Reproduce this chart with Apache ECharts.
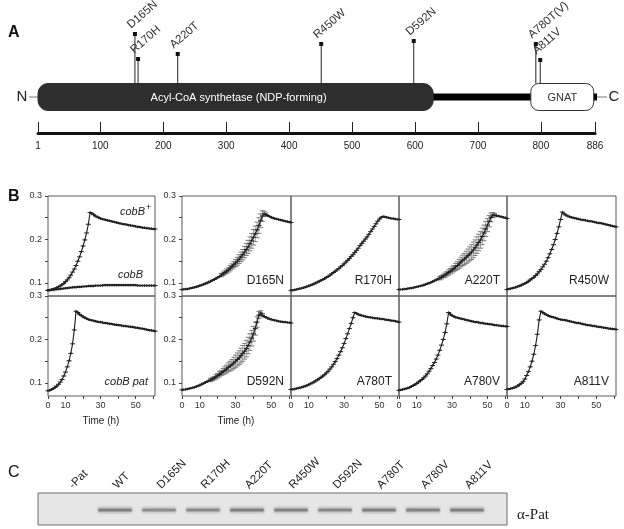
<!DOCTYPE html>
<html><head><meta charset="utf-8">
<script src="https://cdn.jsdelivr.net/npm/echarts@6/dist/echarts.min.js"></script>
<style>html,body{margin:0;padding:0;background:#fff}#c{width:624px;height:529px}</style>
</head><body><div id="c"></div><script>
// ---------------- DATA ----------------
// Panel A: protein schematic (residue numbers)
const proteinLength = 886;
const residueTicks = [1, 100, 200, 300, 400, 500, 600, 700, 800, 886];
const domainNames = ['Acyl-CoA synthetase (NDP-forming)', 'GNAT'];
const domainStart = [1, 784];
const domainEnd = [629, 884];
const linkerRange = [629, 784];
const mutLabels = ['D165N', 'R170H', 'A220T', 'R450W', 'D592N', 'A780T(V)', 'A811V'];
const mutPos = [155, 160, 223, 451, 598, 792, 799];

// Panel B: growth curves (OD vs time, h)
const timeH = [0,1,2,3,4,5,6,7,8,9,10,11,12,13,14,15,16,17,18,19,20,21,22,23,24,25,26,27,28,29,30,31,32,33,34,35,36,37,38,39,40,41,42,43,44,45,46,47,48,49,50,51,52,53,54,55,56,57,58,59,60,61];
const xTickLabels = [0, 10, 30, 50];
const xTicks = [0, 10, 20, 30, 40, 50, 60];
const yTickLabels = [0.1, 0.2, 0.3];
const yTicks = [0.1, 0.15, 0.2, 0.25, 0.3];

const cobBplus = [0.083,0.084,0.085,0.086,0.087,0.089,0.091,0.093,0.096,0.099,
 0.103,0.107,0.112,0.118,0.125,0.132,0.140,0.150,0.160,0.172,
 0.185,0.199,0.215,0.235,0.262,0.260,0.257,0.254,0.252,0.250,
 0.248,0.247,0.246,0.245,0.244,0.243,0.242,0.241,0.240,0.239,
 0.238,0.237,0.236,0.235,0.235,0.234,0.233,0.232,0.232,0.231,
 0.230,0.229,0.229,0.228,0.227,0.227,0.226,0.226,0.225,0.225,0.224,0.224];
const cobB = [0.083,0.083,0.084,0.084,0.085,0.085,0.086,0.086,0.087,0.087,
 0.088,0.088,0.089,0.089,0.090,0.090,0.090,0.091,0.091,0.091,
 0.092,0.092,0.092,0.093,0.093,0.093,0.093,0.094,0.094,0.094,
 0.094,0.094,0.095,0.095,0.095,0.095,0.095,0.095,0.095,0.095,
 0.095,0.095,0.095,0.095,0.095,0.095,0.095,0.095,0.095,0.095,
 0.095,0.094,0.094,0.094,0.094,0.094,0.094,0.094,0.094,0.094,0.094,0.094];
const cobBpat = [0.082,0.083,0.085,0.087,0.090,0.093,0.097,0.102,0.108,0.116,
 0.125,0.137,0.151,0.168,0.190,0.222,0.265,0.262,0.258,0.255,
 0.252,0.250,0.248,0.246,0.245,0.244,0.243,0.242,0.241,0.240,
 0.240,0.239,0.238,0.238,0.237,0.236,0.236,0.235,0.234,0.234,
 0.233,0.233,0.232,0.231,0.231,0.230,0.230,0.229,0.229,0.228,
 0.227,0.227,0.226,0.225,0.225,0.224,0.223,0.222,0.221,0.221,0.220,0.219];
const D165N = [0.085,0.085,0.086,0.086,0.087,0.088,0.089,0.090,0.091,0.092,
 0.094,0.095,0.097,0.098,0.100,0.102,0.104,0.106,0.108,0.110,
 0.113,0.115,0.118,0.121,0.124,0.127,0.130,0.134,0.138,0.142,
 0.146,0.150,0.155,0.160,0.165,0.171,0.177,0.183,0.190,0.197,
 0.205,0.213,0.222,0.232,0.243,0.254,0.259,0.257,0.255,0.253,
 0.251,0.249,0.248,0.247,0.246,0.245,0.244,0.243,0.242,0.241,0.240,0.239];
const D165Nerr = [0.002,0.002,0.002,0.002,0.002,0.002,0.002,0.002,0.002,0.002,
 0.002,0.002,0.002,0.002,0.002,0.003,0.003,0.003,0.003,0.003,
 0.003,0.003,0.004,0.004,0.004,0.005,0.005,0.006,0.006,0.007,
 0.008,0.009,0.010,0.011,0.012,0.013,0.014,0.015,0.016,0.017,
 0.018,0.018,0.018,0.018,0.016,0.012,0.006,0.004,0.003,0.003,
 0.003,0.003,0.003,0.003,0.003,0.003,0.003,0.003,0.003,0.003,0.003,0.003];
const R170H = [0.083,0.083,0.084,0.085,0.086,0.087,0.088,0.089,0.090,0.092,
 0.093,0.095,0.096,0.098,0.100,0.102,0.104,0.106,0.108,0.110,
 0.113,0.115,0.118,0.121,0.124,0.127,0.130,0.133,0.137,0.140,
 0.144,0.148,0.152,0.156,0.161,0.165,0.170,0.175,0.180,0.186,
 0.191,0.196,0.201,0.206,0.212,0.218,0.224,0.230,0.236,0.242,
 0.247,0.251,0.253,0.252,0.251,0.250,0.249,0.248,0.248,0.247,0.246,0.246];
const A220T = [0.085,0.085,0.085,0.086,0.086,0.087,0.088,0.088,0.089,0.090,
 0.091,0.092,0.093,0.094,0.095,0.097,0.098,0.100,0.101,0.103,
 0.105,0.107,0.109,0.111,0.113,0.116,0.118,0.121,0.124,0.127,
 0.130,0.133,0.137,0.140,0.144,0.148,0.152,0.155,0.159,0.163,
 0.167,0.171,0.176,0.181,0.187,0.193,0.199,0.207,0.215,0.224,
 0.233,0.242,0.251,0.256,0.256,0.255,0.254,0.253,0.252,0.251,0.250,0.248];
const A220Terr = [0.002,0.002,0.002,0.002,0.002,0.002,0.002,0.002,0.002,0.002,
 0.002,0.002,0.002,0.002,0.002,0.003,0.003,0.003,0.003,0.003,
 0.003,0.003,0.003,0.004,0.004,0.004,0.005,0.005,0.006,0.006,
 0.007,0.007,0.008,0.009,0.010,0.011,0.012,0.013,0.014,0.015,
 0.016,0.017,0.018,0.018,0.019,0.019,0.019,0.019,0.018,0.017,
 0.015,0.013,0.010,0.006,0.004,0.003,0.003,0.003,0.003,0.003,0.003,0.003];
const R450W = [0.085,0.086,0.087,0.088,0.089,0.090,0.092,0.093,0.095,0.097,
 0.099,0.101,0.104,0.107,0.110,0.113,0.117,0.121,0.126,0.131,
 0.137,0.143,0.150,0.158,0.167,0.177,0.188,0.200,0.214,0.229,
 0.246,0.263,0.259,0.256,0.254,0.252,0.251,0.250,0.249,0.248,
 0.247,0.246,0.245,0.245,0.244,0.243,0.242,0.242,0.241,0.240,
 0.239,0.238,0.238,0.237,0.236,0.235,0.234,0.233,0.232,0.231,0.230,0.229];
const D592N = [0.084,0.085,0.085,0.086,0.087,0.088,0.089,0.090,0.092,0.093,
 0.095,0.097,0.099,0.101,0.103,0.105,0.107,0.109,0.111,0.114,
 0.117,0.120,0.123,0.126,0.129,0.132,0.136,0.139,0.142,0.146,
 0.150,0.154,0.158,0.163,0.168,0.173,0.179,0.186,0.194,0.203,
 0.213,0.225,0.240,0.256,0.261,0.256,0.253,0.251,0.249,0.247,
 0.246,0.245,0.244,0.243,0.242,0.241,0.241,0.240,0.240,0.239,0.239,0.238];
const D592Nerr = [0.002,0.002,0.002,0.002,0.002,0.002,0.002,0.002,0.002,0.002,
 0.002,0.002,0.003,0.003,0.003,0.003,0.004,0.004,0.004,0.005,
 0.005,0.006,0.006,0.007,0.008,0.009,0.010,0.011,0.012,0.013,
 0.014,0.015,0.016,0.017,0.018,0.018,0.019,0.019,0.019,0.018,
 0.017,0.015,0.012,0.008,0.005,0.004,0.003,0.003,0.003,0.003,
 0.003,0.003,0.003,0.003,0.003,0.003,0.003,0.003,0.003,0.003,0.003,0.003];
const A780T = [0.085,0.085,0.086,0.087,0.088,0.089,0.090,0.091,0.093,0.094,
 0.096,0.098,0.100,0.102,0.105,0.107,0.110,0.113,0.116,0.119,
 0.123,0.127,0.132,0.137,0.143,0.149,0.156,0.164,0.172,0.181,
 0.191,0.202,0.213,0.225,0.237,0.250,0.262,0.260,0.258,0.256,
 0.255,0.254,0.253,0.252,0.251,0.251,0.250,0.249,0.249,0.248,
 0.248,0.247,0.247,0.246,0.245,0.245,0.244,0.243,0.243,0.242,0.241,0.240];
const A780V = [0.083,0.084,0.085,0.086,0.087,0.088,0.090,0.092,0.094,0.096,
 0.099,0.102,0.105,0.108,0.112,0.116,0.121,0.127,0.133,0.140,
 0.147,0.155,0.164,0.175,0.187,0.200,0.216,0.236,0.262,0.258,
 0.255,0.253,0.251,0.250,0.249,0.248,0.247,0.246,0.245,0.244,
 0.243,0.242,0.241,0.240,0.240,0.239,0.238,0.238,0.237,0.236,
 0.236,0.235,0.235,0.234,0.233,0.233,0.232,0.232,0.231,0.231,0.230,0.230];
const A811V = [0.085,0.086,0.087,0.088,0.089,0.091,0.093,0.096,0.099,0.103,
 0.109,0.117,0.126,0.137,0.150,0.166,0.186,0.212,0.245,0.265,
 0.262,0.259,0.257,0.255,0.253,0.252,0.251,0.250,0.248,0.247,
 0.246,0.245,0.245,0.244,0.243,0.242,0.241,0.240,0.239,0.238,
 0.238,0.237,0.236,0.235,0.234,0.233,0.233,0.232,0.231,0.231,
 0.230,0.229,0.229,0.228,0.227,0.227,0.226,0.225,0.225,0.224,0.224,0.223];

// Panel C: western blot lanes and relative band intensity
const laneLabels = ['-Pat', 'WT', 'D165N', 'R170H', 'A220T', 'R450W', 'D592N', 'A780T', 'A780V', 'A811V'];
const bandIntensity = [0, 0.75, 0.6, 0.62, 0.75, 0.7, 0.65, 0.75, 0.7, 0.75];

// ---------------- LAYOUT / STYLE ----------------
const FONT = '"Liberation Sans", Arial, Helvetica, sans-serif';
const pinRise = [99, 74, 79, 89, 92, 89, 73]; // px above scale line (label staggering)
const colLeft = {L: 48, 0: 182, 1: 291, 2: 399, 3: 507};
const colWidth = {L: 107, 0: 109, 1: 108, 2: 108, 3: 109};
const rowTop = [196, 296];
const rowH = 100;

const panels = [
  {label: null, series: [cobBplus, cobB], err: [null, null], col: 'L', row: 0},
  {label: 'D165N', series: [D165N], err: [D165Nerr], col: 0, row: 0},
  {label: 'R170H', series: [R170H], err: [null], col: 1, row: 0},
  {label: 'A220T', series: [A220T], err: [A220Terr], col: 2, row: 0},
  {label: 'R450W', series: [R450W], err: [null], col: 3, row: 0},
  {label: null, series: [cobBpat], err: [null], col: 'L', row: 1},
  {label: 'D592N', series: [D592N], err: [D592Nerr], col: 0, row: 1},
  {label: 'A780T', series: [A780T], err: [null], col: 1, row: 1},
  {label: 'A780V', series: [A780V], err: [null], col: 2, row: 1},
  {label: 'A811V', series: [A811V], err: [null], col: 3, row: 1}
];

function T(x, y, text, o) {
  o = o || {};
  const align = o.align || 'left', va = o.va || 'middle';
  return {type: 'text', x: x, y: y, rotation: o.rot || 0, silent: true, z: 100,
    style: {text: text, fill: o.color || '#222', fontSize: o.size || 11, fontFamily: o.family || FONT,
      fontWeight: o.weight || 'normal', fontStyle: o.style || 'normal',
      align: align, textAlign: align, verticalAlign: va, textVerticalAlign: va}};
}

const grids = [], xAxes = [], yAxes = [], series = [], graphics = [];

// ---------- Panel A ----------
grids.push({left: 38, top: 20, width: 557, height: 113});
xAxes.push({gridIndex: 0, type: 'value', min: 1, max: proteinLength, position: 'bottom',
  axisLine: {show: true, onZero: false, lineStyle: {color: '#111', width: 3}},
  axisTick: {show: true, inside: true, length: 11, customValues: residueTicks, lineStyle: {color: '#222', width: 1}},
  axisLabel: {show: true, customValues: residueTicks, fontSize: 10, color: '#222', margin: 8, fontFamily: FONT},
  splitLine: {show: false}});
yAxes.push({gridIndex: 0, type: 'value', min: 0, max: 1, show: false});

const BAR_DY = 36, BAR_H = 27, LINK_H = 7;
series.push({type: 'custom', xAxisIndex: 0, yAxisIndex: 0, silent: true, animation: false,
  data: [[linkerRange[0], linkerRange[1]]],
  renderItem: function (p, api) {
    const a = api.coord([api.value(0), 0]), b = api.coord([api.value(1), 0]);
    const cy = a[1] - BAR_DY;
    const n = api.coord([1, 0]), c = api.coord([proteinLength, 0]);
    return {type: 'group', children: [
      {type: 'rect', shape: {x: a[0] - 4, y: cy - LINK_H / 2, width: b[0] - a[0] + 8, height: LINK_H}, style: {fill: '#000'}},
      {type: 'line', shape: {x1: n[0] - 9, y1: cy, x2: n[0] + 2, y2: cy}, style: {stroke: '#777', lineWidth: 1}},
      {type: 'rect', shape: {x: c[0] - 3, y: cy - LINK_H / 2, width: 5, height: LINK_H}, style: {fill: '#000'}},
      {type: 'line', shape: {x1: c[0] + 2, y1: cy, x2: c[0] + 12, y2: cy}, style: {stroke: '#777', lineWidth: 1}},
      {type: 'text', x: n[0] - 16, y: cy, style: {text: 'N', fontSize: 15, fontFamily: FONT, fill: '#222', align: 'center', verticalAlign: 'middle', textAlign: 'center', textVerticalAlign: 'middle'}},
      {type: 'text', x: c[0] + 19, y: cy, style: {text: 'C', fontSize: 15, fontFamily: FONT, fill: '#222', align: 'center', verticalAlign: 'middle', textAlign: 'center', textVerticalAlign: 'middle'}}
    ]};
  }});
series.push({type: 'custom', xAxisIndex: 0, yAxisIndex: 0, silent: true, animation: false, z: 3,
  data: domainStart.map((s, i) => [s, domainEnd[i]]),
  renderItem: function (p, api) {
    const i = p.dataIndex;
    const a = api.coord([api.value(0), 0]), b = api.coord([api.value(1), 0]);
    const cy = a[1] - BAR_DY;
    const dark = i === 0;
    return {type: 'group', children: [
      {type: 'rect', shape: {x: a[0], y: cy - BAR_H / 2, width: b[0] - a[0], height: BAR_H, r: dark ? 10 : 8},
        style: {fill: dark ? '#2e2e2e' : '#fff', stroke: dark ? '#2e2e2e' : '#333', lineWidth: 1}},
      {type: 'text', x: (a[0] + b[0]) / 2 + (dark ? 3 : 0), y: cy + 1,
        style: {text: domainNames[i], fontSize: 11, fontFamily: FONT, fill: dark ? '#fff' : '#333', align: 'center', verticalAlign: 'middle', textAlign: 'center', textVerticalAlign: 'middle'}}
    ]};
  }});
series.push({type: 'custom', xAxisIndex: 0, yAxisIndex: 0, silent: true, animation: false, z: 4,
  data: mutPos.map(v => [v, 0]),
  renderItem: function (p, api) {
    const i = p.dataIndex;
    const pt = api.coord([api.value(0), 0]);
    const barTop = pt[1] - BAR_DY - BAR_H / 2;
    const top = pt[1] - pinRise[i];
    return {type: 'group', children: [
      {type: 'line', shape: {x1: pt[0], y1: top, x2: pt[0], y2: barTop}, style: {stroke: '#222', lineWidth: 1}},
      {type: 'rect', shape: {x: pt[0] - 2, y: top - 2, width: 4, height: 4}, style: {fill: '#111'}},
      {type: 'text', x: pt[0] - 2, y: top - 3, rotation: 0.72,
        style: {text: mutLabels[i], fontSize: 11.5, fontFamily: FONT, fill: '#333', align: 'left', verticalAlign: 'bottom', textAlign: 'left', textVerticalAlign: 'bottom'}}
    ]};
  }});

// ---------- Panel B ----------
function markRender(p, api) {
  const c = api.coord([api.value(0), api.value(1)]);
  return {type: 'group', children: [
    {type: 'line', shape: {x1: c[0] - 2.5, y1: c[1], x2: c[0] + 2.5, y2: c[1]}, style: {stroke: '#222', lineWidth: 1}},
    {type: 'line', shape: {x1: c[0], y1: c[1] - 1.3, x2: c[0], y2: c[1] + 1.3}, style: {stroke: '#222', lineWidth: 1}}
  ]};
}

panels.forEach(function (pn) {
  const gi = grids.length;
  const firstCol = pn.col === 'L' || pn.col === 0;
  const bottom = pn.row === 1;
  grids.push({left: colLeft[pn.col], top: rowTop[pn.row], width: colWidth[pn.col], height: rowH,
    show: true, borderColor: '#5a5a5a', borderWidth: 1, backgroundColor: 'transparent'});
  xAxes.push({gridIndex: gi, type: 'value', min: 0, max: 61,
    axisLine: {show: false},
    axisTick: {show: bottom, length: 3, customValues: xTicks, lineStyle: {color: '#444'}},
    axisLabel: {show: bottom, customValues: xTickLabels, fontSize: 9, color: '#333', margin: 5, fontFamily: FONT},
    splitLine: {show: false}});
  yAxes.push({gridIndex: gi, type: 'value', min: 0.07, max: 0.3,
    axisLine: {show: false},
    axisTick: {show: firstCol, length: 3, customValues: yTicks, lineStyle: {color: '#444'}},
    axisLabel: {show: firstCol, customValues: yTickLabels, fontSize: 9, color: '#333', margin: 6, fontFamily: FONT,
      formatter: v => v.toFixed(1)},
    splitLine: {show: false}});
  pn.series.forEach(function (arr, k) {
    const d = timeH.map((t, i) => [t, arr[i]]);
    const errArr = pn.err[k];
    if (errArr) {
      series.push({type: 'custom', xAxisIndex: gi, yAxisIndex: gi, silent: true, animation: false, z: 2,
        data: d, renderItem: function (p, api) {
          const x = api.value(0), y = api.value(1), e = errArr[p.dataIndex];
          if (e <= 0.0035) return null;
          const c = api.coord([x, y]), t = api.coord([x, y + e]), b = api.coord([x, y - e]);
          return {type: 'group', children: [
            {type: 'line', shape: {x1: c[0], y1: t[1], x2: c[0], y2: b[1]}, style: {stroke: '#a0a0a0', lineWidth: 1}},
            {type: 'line', shape: {x1: c[0] - 2.5, y1: t[1], x2: c[0] + 2.5, y2: t[1]}, style: {stroke: '#7a7a7a', lineWidth: 1}},
            {type: 'line', shape: {x1: c[0] - 2.5, y1: b[1], x2: c[0] + 2.5, y2: b[1]}, style: {stroke: '#7a7a7a', lineWidth: 1}}
          ]};
        }});
    }
    series.push({type: 'line', xAxisIndex: gi, yAxisIndex: gi, data: d, showSymbol: false, silent: true, animation: false, z: 3,
      lineStyle: {color: '#1a1a1a', width: 1.1}});
    series.push({type: 'custom', xAxisIndex: gi, yAxisIndex: gi, silent: true, animation: false, z: 4,
      data: d, renderItem: markRender});
  });
  if (pn.label) {
    graphics.push(T(colLeft[pn.col] + colWidth[pn.col] - 7, pn.row === 0 ? 281 : 382, pn.label, {align: 'right', size: 12, color: '#222'}));
  }
});

// italic strain labels in left column
graphics.push(T(145, 212, 'cobB', {align: 'right', style: 'italic', size: 11}));
graphics.push(T(146, 208, '+', {align: 'left', size: 9}));
graphics.push(T(143, 275, 'cobB', {align: 'right', style: 'italic', size: 11}));
graphics.push(T(148, 382, 'cobB pat', {align: 'right', style: 'italic', size: 11}));
graphics.push(T(101, 421, 'Time (h)', {align: 'center', size: 10}));
graphics.push(T(236, 421, 'Time (h)', {align: 'center', size: 10}));

// ---------- Panel C ----------
const gBlot = grids.length;
grids.push({left: 38, top: 493, width: 469, height: 32, show: true, backgroundColor: '#e6e6e6', borderColor: '#6e6e6e', borderWidth: 1});
xAxes.push({gridIndex: gBlot, type: 'value', min: 0, max: 1, show: false});
yAxes.push({gridIndex: gBlot, type: 'value', min: 0, max: 1, show: false});
const gLane = grids.length;
grids.push({left: 49, top: 493, width: 440, height: 32});
xAxes.push({gridIndex: gLane, type: 'category', data: laneLabels, position: 'top',
  axisLine: {show: false}, axisTick: {show: false},
  axisLabel: {interval: 0, rotate: 45, fontSize: 11.5, color: '#222', margin: 6, fontFamily: FONT}});
yAxes.push({gridIndex: gLane, type: 'value', min: 0, max: 1, show: false});
series.push({type: 'custom', xAxisIndex: gLane, yAxisIndex: gLane, silent: true, animation: false,
  data: bandIntensity.map((v, i) => [i, v]),
  renderItem: function (p, api) {
    const v = api.value(1);
    if (!v) return null;
    const c = api.coord([api.value(0), 1]);
    const cy = c[1] + 17;
    return {type: 'group', children: [
      {type: 'rect', shape: {x: c[0] - 18, y: cy - 4, width: 36, height: 8, r: 3}, style: {fill: 'rgba(160,160,160,' + (v * 0.3) + ')'}},
      {type: 'rect', shape: {x: c[0] - 17, y: cy - 1.6, width: 34, height: 3.2, r: 1.5}, style: {fill: 'rgba(110,110,110,' + v + ')', shadowBlur: 3, shadowColor: 'rgba(120,120,120,0.7)'}}
    ]};
  }});
graphics.push(T(517, 515, 'α-Pat', {align: 'left', size: 15, family: '"Liberation Serif", "Times New Roman", serif'}));

// Panel letters
graphics.push(T(8, 33, 'A', {size: 16, weight: 'bold', color: '#111'}));
graphics.push(T(8, 197, 'B', {size: 16, weight: 'bold', color: '#111'}));
graphics.push(T(8, 473, 'C', {size: 16, color: '#111'}));

const chart = echarts.init(document.getElementById('c'), null, {renderer: 'canvas', width: 624, height: 529});
chart.setOption({
  backgroundColor: '#fff',
  animation: false,
  grid: grids, xAxis: xAxes, yAxis: yAxes, series: series,
  graphic: {elements: graphics}
});
</script></body></html>
